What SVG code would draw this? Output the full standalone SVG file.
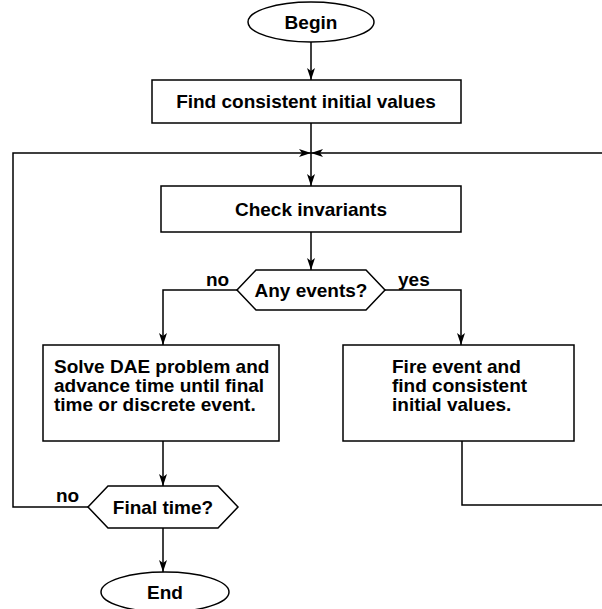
<svg xmlns="http://www.w3.org/2000/svg" width="602" height="609" viewBox="0 0 602 609">
<style>
.s{fill:#fff;stroke:#000;stroke-width:1.5}
.c{fill:none;stroke:#000;stroke-width:1.5}
.t{font-family:"Liberation Sans",Arial,sans-serif;font-weight:bold;font-size:19px;fill:#000}
.m{text-anchor:middle}
</style>
<defs>
<marker id="a" viewBox="0 0 12 8" refX="12" refY="4" markerWidth="12" markerHeight="8" markerUnits="userSpaceOnUse" orient="auto">
<path d="M0,0 L12,4 L0,8 L3,4 z" fill="#000"/>
</marker>
</defs>
<rect width="602" height="609" fill="#fff"/>
<g id="connectors">
<line class="c" x1="311" y1="42" x2="311" y2="80" marker-end="url(#a)"/>
<line class="c" x1="311" y1="123" x2="311" y2="186" marker-end="url(#a)"/>
<polyline class="c" points="88,507 13,507 13,153 311,153" marker-end="url(#a)"/>
<polyline class="c" points="462,441 462,505 602,505"/>
<line class="c" x1="602" y1="153" x2="311" y2="153" marker-end="url(#a)"/>
<line class="c" x1="311" y1="232" x2="311" y2="270" marker-end="url(#a)"/>
<polyline class="c" points="237,290 163,290 163,345" marker-end="url(#a)"/>
<polyline class="c" points="385,290 461,290 461,345" marker-end="url(#a)"/>
<line class="c" x1="163" y1="441" x2="163" y2="486" marker-end="url(#a)"/>
<line class="c" x1="163" y1="528" x2="163" y2="572" marker-end="url(#a)"/>
<text class="t" x="206" y="286">no</text>
<text class="t" x="398" y="286">yes</text>
<text class="t" x="56" y="502">no</text>
</g>
<g id="begin">
<ellipse class="s" cx="311" cy="22" rx="63" ry="20"/>
<text class="t m" x="311" y="29">Begin</text>
</g>
<g id="find">
<rect class="s" x="152" y="80" width="309" height="43"/>
<text class="t m" x="306" y="108">Find consistent initial values</text>
</g>
<g id="check">
<rect class="s" x="161" y="186" width="300" height="46"/>
<text class="t m" x="311" y="216">Check invariants</text>
</g>
<g id="anyevents">
<polygon class="s" points="237,290 256,270 366,270 385,290 366,310 256,310"/>
<text class="t m" x="311" y="297">Any events?</text>
</g>
<g id="solve">
<rect class="s" x="43" y="345" width="236" height="96"/>
<text class="t" x="54" y="373">Solve DAE problem and</text>
<text class="t" x="54" y="392">advance time until final</text>
<text class="t" x="54" y="411">time or discrete event.</text>
</g>
<g id="fire">
<rect class="s" x="343" y="345" width="231" height="96"/>
<text class="t" x="392" y="373">Fire event and</text>
<text class="t" x="392" y="392">find consistent</text>
<text class="t" x="392" y="411">initial values.</text>
</g>
<g id="finaltime">
<polygon class="s" points="88,507 108,486 218,486 238,507 218,528 108,528"/>
<text class="t m" x="163" y="514">Final time?</text>
</g>
<g id="end">
<ellipse class="s" cx="165" cy="592" rx="64" ry="20"/>
<text class="t m" x="165" y="599">End</text>
</g>
</svg>
